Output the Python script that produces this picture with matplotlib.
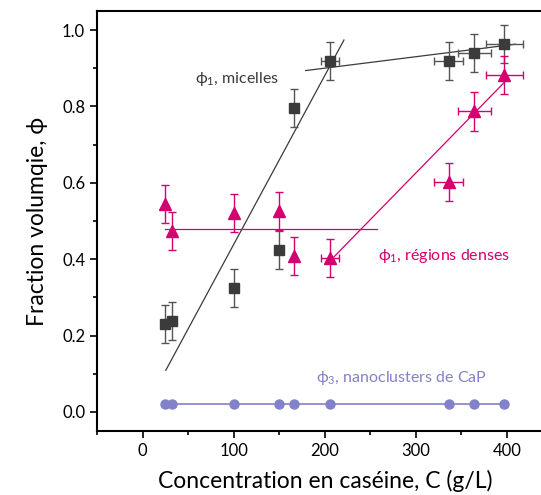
import matplotlib

matplotlib.use("Agg")
import matplotlib.pyplot as plt
from matplotlib.ticker import MultipleLocator

# casein concentration (g/L)
conc = [24.5, 32.8, 100, 150, 166, 205.5, 336, 364, 397]
conc_err = [0, 0, 0, 0, 0, 10, 16, 18, 20]

phi_micelles = [0.23, 0.238, 0.324, 0.424, 0.796, 0.92, 0.92, 0.94, 0.963]
phi_micelles_err = [0.05] * 9

phi_dense = [0.544, 0.474, 0.522, 0.527, 0.409, 0.404, 0.603, 0.787, 0.883]
phi_dense_err = [0.05] * 9

phi_cap = [0.02] * 9

# guide lines (x, y endpoints)
fit_mic_steep_x = [25.5, 221]
fit_mic_steep_y = [0.109, 0.974]
fit_mic_flat_x = [179, 409]
fit_mic_flat_y = [0.894, 0.963]
fit_dense_flat_x = [24.4, 257]
fit_dense_flat_y = [0.478, 0.478]
fit_dense_rise_x = [210, 397]
fit_dense_rise_y = [0.406, 0.863]

c_mic = "#3b3b3b"
c_dense = "#d4006f"
c_cap = "#8282c8"

plt.rcParams["font.family"] = ["Lato", "DejaVu Sans"]
plt.rcParams["mathtext.default"] = "regular"

fig = plt.figure(figsize=(5.41, 4.95), dpi=100)
ax = fig.add_axes([97 / 541, 64 / 495, 455.6 / 541, 420 / 495])

ax.plot(fit_mic_steep_x, fit_mic_steep_y, color=c_mic, lw=0.9)
ax.plot(fit_mic_flat_x, fit_mic_flat_y, color=c_mic, lw=0.9)
ax.plot(fit_dense_flat_x, fit_dense_flat_y, color=c_dense, lw=0.9)
ax.plot(fit_dense_rise_x, fit_dense_rise_y, color=c_dense, lw=0.9)
ax.plot(conc, phi_cap, color=c_cap, lw=1.2, marker="o", ms=6.5, zorder=3)

ax.errorbar(conc, phi_micelles, yerr=phi_micelles_err, xerr=conc_err, fmt="s",
            color=c_mic, ecolor="#555555", ms=7, elinewidth=1, capsize=3, zorder=4)
ax.errorbar(conc, phi_dense, yerr=phi_dense_err, xerr=conc_err, fmt="^",
            color=c_dense, ecolor=c_dense, ms=8, elinewidth=1, capsize=3, zorder=4)

ax.text(58, 0.872, "ϕ$_1$, micelles", color=c_mic, fontsize=11.5, va="center")
ax.text(258, 0.409, "ϕ$_1$, régions denses", color=c_dense, fontsize=11.5, va="center")
ax.text(190, 0.09, "ϕ$_3$, nanoclusters de CaP", color=c_cap, fontsize=11.5, va="center")

ax.set_xlim(-50, 450)
ax.set_ylim(-0.05, 1.05)
ax.xaxis.set_major_locator(MultipleLocator(100))
ax.xaxis.set_minor_locator(MultipleLocator(50))
ax.yaxis.set_major_locator(MultipleLocator(0.2))
ax.yaxis.set_minor_locator(MultipleLocator(0.1))
ax.yaxis.set_major_formatter(plt.FormatStrFormatter("%.1f"))
ax.tick_params(which="major", direction="out", length=5, width=1.2, labelsize=12)
ax.tick_params(which="minor", direction="out", length=3, width=1.2)
for sp in ax.spines.values():
    sp.set_linewidth(1.5)

ax.set_xlabel("Concentration en caséine, C (g/L)", fontsize=16.5, labelpad=8)
ax.set_ylabel("Fraction volumqie, ϕ", fontsize=16.5, labelpad=10)

fig.savefig("out.png", dpi=100)
